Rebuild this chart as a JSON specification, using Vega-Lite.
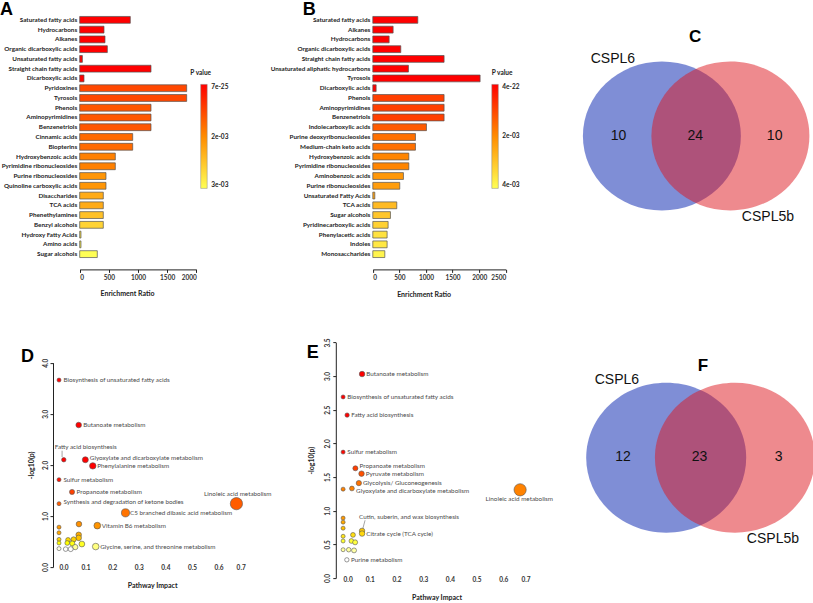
{
  "$schema": "https://vega.github.io/schema/vega-lite/v6.json",
  "background": "white",
  "padding": {"left": 0, "top": 1, "right": 0, "bottom": 0},
  "columns": 3,
  "spacing": {"column": 95.1, "row": 83.1},
  "bounds": "flush",
  "align": "all",
  "resolve": {"scale": {"color": "independent", "size": "independent"}, "legend": {"color": "independent", "size": "independent"}},
  "config": {
    "view": {"stroke": null},
    "font": "Lato",
    "axis": {"labelFont": "Lato", "titleFont": "Lato", "labelFontWeight": "bold", "titleFontWeight": "bold", "labelFontSize": 6.5, "titleFontSize": 7, "labelColor": "#333", "titleColor": "#222", "grid": false, "domainColor": "#222", "tickColor": "#222"},
    "legend": {"labelFont": "Lato", "titleFont": "Lato"}
  },
  "concat": [
    {
      "width": 186.2, "height": 244,
      "title": {"text": "A", "anchor": "start", "frame": "group", "dx": -59, "offset": -18, "baseline": "alphabetic", "fontSize": 18, "fontWeight": "bold", "font": "Liberation Sans", "color": "#000"},
      "data": {"values": [
        {"class": "Saturated fatty acids", "ratio": 868, "p": 7e-25},
        {"class": "Hydrocarbons", "ratio": 417, "p": 1e-21},
        {"class": "Alkanes", "ratio": 434, "p": 5e-19},
        {"class": "Organic dicarboxylic acids", "ratio": 474, "p": 2e-16},
        {"class": "Unsaturated fatty acids", "ratio": 46, "p": 1e-13},
        {"class": "Straight chain fatty acids", "ratio": 1223, "p": 3e-11},
        {"class": "Dicarboxylic acids", "ratio": 74, "p": 1e-8},
        {"class": "Pyridoxines", "ratio": 1835, "p": 0.00135},
        {"class": "Tyrosols", "ratio": 1835, "p": 0.00135},
        {"class": "Phenols", "ratio": 1223, "p": 0.0015},
        {"class": "Aminopyrimidines", "ratio": 1223, "p": 0.0015},
        {"class": "Benzenetriols", "ratio": 1223, "p": 0.0015},
        {"class": "Cinnamic acids", "ratio": 909, "p": 0.0017},
        {"class": "Biopterins", "ratio": 909, "p": 0.0017},
        {"class": "Hydroxybenzoic acids", "ratio": 611, "p": 0.0019},
        {"class": "Pyrimidine ribonucleosides", "ratio": 611, "p": 0.0019},
        {"class": "Purine ribonucleosides", "ratio": 451, "p": 0.0021},
        {"class": "Quinoline carboxylic acids", "ratio": 451, "p": 0.0021},
        {"class": "Disaccharides", "ratio": 405, "p": 0.0023},
        {"class": "TCA acids", "ratio": 405, "p": 0.0023},
        {"class": "Phenethylamines", "ratio": 405, "p": 0.0025},
        {"class": "Benzyl alcohols", "ratio": 405, "p": 0.00265},
        {"class": "Hydroxy Fatty Acids", "ratio": 22, "p": 0.0028},
        {"class": "Amino acids", "ratio": 22, "p": 0.0029},
        {"class": "Sugar alcohols", "ratio": 302, "p": 0.003}
      ]},
      "mark": {"type": "bar", "stroke": "#555", "strokeWidth": 0.7},
      "encoding": {
        "y": {"field": "class", "type": "nominal", "sort": null, "scale": {"paddingInner": 0.3, "paddingOuter": 0.15}, "axis": {"title": null, "domain": false, "ticks": false, "labelPadding": 3, "offset": -20.7, "labelFontSize": 6.3, "labelColor": "#222", "labelLimit": 300}},
        "x": {"field": "ratio", "type": "quantitative", "scale": {"domain": [0, 2000], "range": [20.7, 137.3], "nice": false}, "axis": {"values": [0, 500, 1000, 1500, 2000], "format": "d", "offset": 10.4, "tickSize": 3, "labelPadding": 2, "title": "Enrichment Ratio", "titlePadding": 9, "titleX": 68}},
        "color": {"field": "p", "type": "quantitative", "scale": {"type": "pow", "exponent": 1.7, "domain": [0.003, 0.002, 7e-25], "range": ["#ffff55", "#ff8c00", "#ff0000"], "interpolate": "rgb"},
          "legend": {"orient": "none", "legendX": 130.7, "legendY": 54.9, "direction": "vertical", "title": "P value", "titleFontSize": 6.5, "titleFontWeight": "bold", "titleColor": "#222", "titleAnchor": "start", "titleAlign": "center", "titlePadding": 8, "gradientLength": 104, "gradientThickness": 6.5, "gradientStrokeColor": "#888", "gradientStrokeWidth": 0.5, "values": [7e-25, 0.002, 0.003], "labelExpr": "replace(format(datum.value, '.0e'), 'e-3', 'e-03')", "labelFontSize": 6.5, "labelFontWeight": "bold", "labelColor": "#222", "labelOffset": 4, "padding": 0}}
      }
    },
    {
      "width": 186.9, "height": 244,
      "title": {"text": "B", "anchor": "start", "frame": "group", "dx": -40.3, "offset": -18, "baseline": "alphabetic", "fontSize": 18, "fontWeight": "bold", "font": "Liberation Sans", "color": "#000"},
      "data": {"values": [
        {"class": "Saturated fatty acids", "ratio": 846, "p": 4e-22},
        {"class": "Alkanes", "ratio": 382, "p": 1e-19},
        {"class": "Hydrocarbons", "ratio": 307, "p": 1e-17},
        {"class": "Organic dicarboxylic acids", "ratio": 526, "p": 1e-15},
        {"class": "Straight chain fatty acids", "ratio": 1340, "p": 1e-13},
        {"class": "Unsaturated aliphatic hydrocarbons", "ratio": 670, "p": 1e-11},
        {"class": "Tyrosols", "ratio": 2017, "p": 1e-9},
        {"class": "Dicarboxylic acids", "ratio": 63, "p": 1e-7},
        {"class": "Phenols", "ratio": 1340, "p": 0.0009},
        {"class": "Aminopyrimidines", "ratio": 1340, "p": 0.0009},
        {"class": "Benzenetriols", "ratio": 1340, "p": 0.0009},
        {"class": "Indolecarboxylic acids", "ratio": 1009, "p": 0.0013},
        {"class": "Purine deoxyribonucleosides", "ratio": 802, "p": 0.0016},
        {"class": "Medium-chain keto acids", "ratio": 802, "p": 0.0016},
        {"class": "Hydroxybenzoic acids", "ratio": 677, "p": 0.0019},
        {"class": "Pyrimidine ribonucleosides", "ratio": 677, "p": 0.0019},
        {"class": "Aminobenzoic acids", "ratio": 576, "p": 0.0022},
        {"class": "Purine ribonucleosides", "ratio": 507, "p": 0.0023},
        {"class": "Unsaturated Fatty Acids", "ratio": 38, "p": 0.0024},
        {"class": "TCA acids", "ratio": 451, "p": 0.0028},
        {"class": "Sugar alcohols", "ratio": 332, "p": 0.003},
        {"class": "Pyridinecarboxylic acids", "ratio": 288, "p": 0.0032},
        {"class": "Phenylacetic acids", "ratio": 269, "p": 0.0035},
        {"class": "Indoles", "ratio": 269, "p": 0.0036},
        {"class": "Monosaccharides", "ratio": 226, "p": 0.0038}
      ]},
      "mark": {"type": "bar", "stroke": "#555", "strokeWidth": 0.7},
      "encoding": {
        "y": {"field": "class", "type": "nominal", "sort": null, "scale": {"paddingInner": 0.3, "paddingOuter": 0.15}, "axis": {"title": null, "domain": false, "ticks": false, "labelPadding": 3, "offset": -29.7, "labelFontSize": 6.3, "labelColor": "#222", "labelLimit": 300}},
        "x": {"field": "ratio", "type": "quantitative", "scale": {"domain": [0, 2500], "range": [29.7, 162.7], "nice": false}, "axis": {"values": [0, 500, 1000, 1500, 2000, 2500], "format": "d", "offset": 10.4, "tickSize": 3, "labelPadding": 2, "title": "Enrichment Ratio", "titlePadding": 10, "titleX": 80.5}},
        "color": {"field": "p", "type": "quantitative", "scale": {"type": "linear", "domain": [0.004, 0.002, 4e-22], "range": ["#ffff55", "#ff8c00", "#ff0000"], "interpolate": "rgb"},
          "legend": {"orient": "none", "legendX": 148.7, "legendY": 54.9, "direction": "vertical", "title": "P value", "titleFontSize": 6.5, "titleFontWeight": "bold", "titleColor": "#222", "titleAnchor": "start", "titlePadding": 8, "gradientLength": 104, "gradientThickness": 6.5, "gradientStrokeColor": "#888", "gradientStrokeWidth": 0.5, "values": [4e-22, 0.002, 0.004], "labelExpr": "replace(format(datum.value, '.0e'), 'e-3', 'e-03')", "labelFontSize": 6.5, "labelFontWeight": "bold", "labelColor": "#222", "labelOffset": 4, "padding": 0}}
      }
    },
    {
      "width": 189, "height": 244,
      "data": {"values": [
        {"kind": "set", "label": "CSPL6", "u": 0, "v": 0},
        {"kind": "set", "label": "CSPL5b", "u": 0.867, "v": 0},
        {"kind": "count", "label": "10", "u": -0.548, "v": 0},
        {"kind": "count", "label": "24", "u": 0.422, "v": 0},
        {"kind": "count", "label": "10", "u": 1.427, "v": 0},
        {"kind": "name", "label": "CSPL6", "u": -0.62, "v": 0.977},
        {"kind": "name", "label": "CSPL5b", "u": 1.342, "v": -1.028},
        {"kind": "panel", "label": "C", "u": 0.422, "v": 1.256}
      ]},
      "encoding": {
        "x": {"field": "u", "type": "quantitative", "scale": {"domain": [-0.439, 1.953], "nice": false, "zero": false}, "axis": null},
        "y": {"field": "v", "type": "quantitative", "scale": {"domain": [-1.558, 1.53], "nice": false, "zero": false}, "axis": null}
      },
      "layer": [
        {"transform": [{"filter": "datum.kind === 'set'"}],
         "mark": {"type": "point", "shape": "M-1,0A1,0.943,0,1,1,1,0A1,0.943,0,1,1,-1,0Z", "filled": true, "size": 24964, "opacity": 0.5, "strokeWidth": 0},
         "encoding": {"color": {"field": "label", "type": "nominal", "scale": {"domain": ["CSPL6", "CSPL5b"], "range": ["#001dad", "#dd151d"]}, "legend": null}}},
        {"transform": [{"filter": "datum.kind === 'count' || datum.kind === 'name'"}],
         "mark": {"type": "text", "font": "Liberation Sans", "fontSize": 14, "color": "#111"},
         "encoding": {"text": {"field": "label"}}},
        {"transform": [{"filter": "datum.kind === 'panel'"}],
         "mark": {"type": "text", "font": "Liberation Sans", "fontSize": 17, "fontWeight": "bold", "color": "#000"},
         "encoding": {"text": {"field": "label"}}}
      ]
    },
    {
      "width": 186.2, "height": 237,
      "title": {"text": "D", "anchor": "start", "frame": "group", "dx": -38, "offset": -37.6, "baseline": "alphabetic", "fontSize": 18, "fontWeight": "bold", "font": "Liberation Sans", "color": "#000"},
      "data": {"values": [
        {"name": "Biosynthesis of unsaturated fatty acids", "impact": 0.0, "logp": 3.66, "pos": "right"},
        {"name": "Butanoate metabolism", "impact": 0.074, "logp": 2.78, "pos": "right"},
        {"name": "Fatty acid biosynthesis", "impact": 0.018, "logp": 2.1, "pos": "above-left"},
        {"name": "Glyoxylate and dicarboxylate metabolism", "impact": 0.099, "logp": 2.1, "pos": "right-up"},
        {"name": "Phenylalanine metabolism", "impact": 0.127, "logp": 1.98, "pos": "right"},
        {"name": "Sulfur metabolism", "impact": 0.0, "logp": 1.71, "pos": "right"},
        {"name": "Propanoate metabolism", "impact": 0.049, "logp": 1.47, "pos": "right"},
        {"name": "Synthesis and degradation of ketone bodies", "impact": 0.0, "logp": 1.24, "pos": "right-up"},
        {"name": "Linoleic acid metabolism", "impact": 0.667, "logp": 1.24, "pos": "above"},
        {"name": "C5 branched dibasic acid metabolism", "impact": 0.25, "logp": 1.06, "pos": "right"},
        {"name": "Vitamin B6 metabolism", "impact": 0.144, "logp": 0.81, "pos": "right"},
        {"name": "", "impact": 0.075, "logp": 0.84, "pos": "none"},
        {"name": "", "impact": 0.0, "logp": 0.78, "pos": "none"},
        {"name": "", "impact": 0.0, "logp": 0.67, "pos": "none"},
        {"name": "", "impact": 0.0, "logp": 0.54, "pos": "none"},
        {"name": "", "impact": 0.0, "logp": 0.47, "pos": "none"},
        {"name": "", "impact": 0.0, "logp": 0.36, "pos": "none"},
        {"name": "", "impact": 0.074, "logp": 0.63, "pos": "none"},
        {"name": "", "impact": 0.074, "logp": 0.57, "pos": "none"},
        {"name": "", "impact": 0.034, "logp": 0.53, "pos": "none"},
        {"name": "", "impact": 0.055, "logp": 0.54, "pos": "none"},
        {"name": "", "impact": 0.031, "logp": 0.47, "pos": "none"},
        {"name": "", "impact": 0.05, "logp": 0.46, "pos": "none"},
        {"name": "", "impact": 0.086, "logp": 0.45, "pos": "none"},
        {"name": "", "impact": 0.061, "logp": 0.39, "pos": "none"},
        {"name": "", "impact": 0.025, "logp": 0.35, "pos": "none"},
        {"name": "", "impact": 0.044, "logp": 0.35, "pos": "none"},
        {"name": "Glycine, serine, and threonine metabolism", "impact": 0.138, "logp": 0.4, "pos": "right"}
      ]},
      "encoding": {
        "x": {"field": "impact", "type": "quantitative", "scale": {"domain": [0, 0.7], "nice": false, "zero": false}, "axis": {"values": [0, 0.1, 0.2, 0.3, 0.4, 0.5, 0.6, 0.7], "format": ".1f", "domain": false, "ticks": false, "offset": -16.2, "labelPadding": 2, "title": "Pathway Impact", "titlePadding": 10}},
        "y": {"field": "logp", "type": "quantitative", "scale": {"domain": [0, 4], "range": [224.9, 20.6], "nice": false, "zero": false}, "axis": {"values": [0, 1, 2, 3, 4], "format": ".1f", "labelAngle": -90, "labelAlign": "center", "labelBaseline": "bottom", "offset": 6, "tickSize": 3, "labelPadding": 2, "title": "-log10(p)", "titlePadding": 8}}
      },
      "layer": [
        {"transform": [{"filter": "datum.pos === 'above-left'"}],
         "mark": {"type": "rule", "xOffset": -1.7, "yOffset": -2.7, "y2Offset": -9, "color": "#666", "strokeWidth": 0.6},
         "encoding": {"y2": {"field": "logp"}}},
        {"mark": {"type": "circle", "opacity": 1, "stroke": "#555", "strokeWidth": 0.6},
         "encoding": {
           "size": {"field": "impact", "type": "quantitative", "scale": {"domain": [0, 0.667], "range": [16, 150]}, "legend": null},
           "color": {"field": "logp", "type": "quantitative", "scale": {"domain": [0.35, 0.4, 0.47, 0.6, 1.0, 1.5, 1.8], "range": ["#ffffff", "#ffff80", "#ffff00", "#ffb000", "#ff7a00", "#ff3c00", "#ff0000"], "interpolate": "rgb"}, "legend": null}}},
        {"transform": [{"filter": "datum.pos === 'right'"}],
         "mark": {"type": "text", "align": "left", "baseline": "middle", "dx": 4.5, "font": "Lato", "fontSize": 6.3, "color": "#4a4a4a"},
         "encoding": {"text": {"field": "name"}}},
        {"transform": [{"filter": "datum.pos === 'right-up'"}],
         "mark": {"type": "text", "align": "left", "baseline": "middle", "dx": 4.5, "dy": -2, "font": "Lato", "fontSize": 6.3, "color": "#4a4a4a"},
         "encoding": {"text": {"field": "name"}}},
        {"transform": [{"filter": "datum.pos === 'above-left'"}],
         "mark": {"type": "text", "align": "left", "baseline": "middle", "dx": -9, "dy": -12.3, "font": "Lato", "fontSize": 6.3, "color": "#4a4a4a"},
         "encoding": {"text": {"field": "name"}}},
        {"transform": [{"filter": "datum.pos === 'above'"}],
         "mark": {"type": "text", "align": "center", "baseline": "middle", "dx": 1.4, "dy": -10, "font": "Lato", "fontSize": 6.3, "color": "#4a4a4a"},
         "encoding": {"text": {"field": "name"}}}
      ]
    },
    {
      "width": 186.9, "height": 237,
      "title": {"text": "E", "anchor": "start", "frame": "group", "dx": -36.3, "offset": -38.4, "baseline": "alphabetic", "fontSize": 18, "fontWeight": "bold", "font": "Liberation Sans", "color": "#000"},
      "data": {"values": [
        {"name": "Butanoate metabolism", "impact": 0.071, "logp": 3.03, "pos": "right"},
        {"name": "Biosynthesis of unsaturated fatty acids", "impact": 0.0, "logp": 2.69, "pos": "right"},
        {"name": "Fatty acid biosynthesis", "impact": 0.015, "logp": 2.42, "pos": "right"},
        {"name": "Sulfur metabolism", "impact": 0.0, "logp": 1.87, "pos": "right"},
        {"name": "Propanoate metabolism", "impact": 0.046, "logp": 1.63, "pos": "right-up"},
        {"name": "Pyruvate metabolism", "impact": 0.069, "logp": 1.55, "pos": "right"},
        {"name": "Glycolysis/ Gluconeogenesis", "impact": 0.059, "logp": 1.41, "pos": "right"},
        {"name": "Glyoxylate and dicarboxylate metabolism", "impact": 0.033, "logp": 1.33, "pos": "right-down"},
        {"name": "", "impact": 0.0, "logp": 1.32, "pos": "none"},
        {"name": "Linoleic acid metabolism", "impact": 0.663, "logp": 1.31, "pos": "below"},
        {"name": "", "impact": 0.0, "logp": 0.89, "pos": "none"},
        {"name": "", "impact": 0.0, "logp": 0.83, "pos": "none"},
        {"name": "", "impact": 0.0, "logp": 0.74, "pos": "none"},
        {"name": "", "impact": 0.0, "logp": 0.62, "pos": "none"},
        {"name": "", "impact": 0.0, "logp": 0.55, "pos": "none"},
        {"name": "", "impact": 0.0, "logp": 0.42, "pos": "none"},
        {"name": "", "impact": 0.037, "logp": 0.64, "pos": "none"},
        {"name": "Cutin, suberin, and wax biosynthesis", "impact": 0.071, "logp": 0.7, "pos": "above-left"},
        {"name": "Citrate cycle (TCA cycle)", "impact": 0.071, "logp": 0.66, "pos": "right"},
        {"name": "", "impact": 0.031, "logp": 0.55, "pos": "none"},
        {"name": "", "impact": 0.045, "logp": 0.53, "pos": "none"},
        {"name": "", "impact": 0.021, "logp": 0.42, "pos": "none"},
        {"name": "", "impact": 0.041, "logp": 0.41, "pos": "none"},
        {"name": "Purine metabolism", "impact": 0.014, "logp": 0.27, "pos": "right"}
      ]},
      "encoding": {
        "x": {"field": "impact", "type": "quantitative", "scale": {"domain": [0, 0.7], "nice": false, "zero": false}, "axis": {"values": [0, 0.1, 0.2, 0.3, 0.4, 0.5, 0.6, 0.7], "format": ".1f", "domain": false, "ticks": false, "offset": -4.2, "labelPadding": 2, "title": "Pathway Impact", "titlePadding": 10}},
        "y": {"field": "logp", "type": "quantitative", "scale": {"domain": [0, 3.5], "range": [235.9, 0.3], "nice": false, "zero": false}, "axis": {"values": [0, 0.5, 1, 1.5, 2, 2.5, 3, 3.5], "format": ".1f", "labelAngle": -90, "labelAlign": "center", "labelBaseline": "bottom", "offset": 7.3, "tickSize": 3, "labelPadding": 2, "title": "-log10(p)", "titlePadding": 10}}
      },
      "layer": [
        {"transform": [{"filter": "datum.pos === 'above-left'"}],
         "mark": {"type": "rule", "xOffset": 0.7, "x2Offset": 3, "yOffset": -2, "y2Offset": -10.6, "color": "#666", "strokeWidth": 0.6},
         "encoding": {"x2": {"field": "impact"}, "y2": {"field": "logp"}}},
        {"mark": {"type": "circle", "opacity": 1, "stroke": "#555", "strokeWidth": 0.6},
         "encoding": {
           "size": {"field": "impact", "type": "quantitative", "scale": {"domain": [0, 0.667], "range": [16, 150]}, "legend": null},
           "color": {"field": "logp", "type": "quantitative", "scale": {"domain": [0.28, 0.42, 0.55, 0.7, 0.9, 1.35, 1.6, 1.9], "range": ["#ffffff", "#ffffa0", "#ffff30", "#ffc800", "#ff9600", "#ff8000", "#ff4500", "#ff0000"], "interpolate": "rgb"}, "legend": null}}},
        {"transform": [{"filter": "datum.pos === 'right'"}],
         "mark": {"type": "text", "align": "left", "baseline": "middle", "dx": 4.2, "font": "Lato", "fontSize": 6.3, "color": "#4a4a4a"},
         "encoding": {"text": {"field": "name"}}},
        {"transform": [{"filter": "datum.pos === 'right-up'"}],
         "mark": {"type": "text", "align": "left", "baseline": "middle", "dx": 4.2, "dy": -2, "font": "Lato", "fontSize": 6.3, "color": "#4a4a4a"},
         "encoding": {"text": {"field": "name"}}},
        {"transform": [{"filter": "datum.pos === 'right-down'"}],
         "mark": {"type": "text", "align": "left", "baseline": "middle", "dx": 4.2, "dy": 2.7, "font": "Lato", "fontSize": 6.3, "color": "#4a4a4a"},
         "encoding": {"text": {"field": "name"}}},
        {"transform": [{"filter": "datum.pos === 'above-left'"}],
         "mark": {"type": "text", "align": "left", "baseline": "middle", "dx": -3, "dy": -13.6, "font": "Lato", "fontSize": 6.3, "color": "#4a4a4a"},
         "encoding": {"text": {"field": "name"}}},
        {"transform": [{"filter": "datum.pos === 'below'"}],
         "mark": {"type": "text", "align": "center", "baseline": "middle", "dx": -0.8, "dy": 9, "font": "Lato", "fontSize": 6.3, "color": "#4a4a4a"},
         "encoding": {"text": {"field": "name"}}}
      ]
    },
    {
      "width": 189, "height": 237,
      "data": {"values": [
        {"kind": "set", "label": "CSPL6", "u": 0, "v": 0},
        {"kind": "set", "label": "CSPL5b", "u": 0.859, "v": 0},
        {"kind": "count", "label": "12", "u": -0.541, "v": 0.0125},
        {"kind": "count", "label": "23", "u": 0.4175, "v": 0.0125},
        {"kind": "count", "label": "3", "u": 1.405, "v": 0.0125},
        {"kind": "name", "label": "CSPL6", "u": -0.616, "v": 0.97},
        {"kind": "name", "label": "CSPL5b", "u": 1.334, "v": -1.021},
        {"kind": "panel", "label": "F", "u": 0.459, "v": 1.145}
      ]},
      "encoding": {
        "x": {"field": "u", "type": "quantitative", "scale": {"domain": [-0.4875, 1.875], "nice": false, "zero": false}, "axis": null},
        "y": {"field": "v", "type": "quantitative", "scale": {"domain": [-1.5175, 1.445], "nice": false, "zero": false}, "axis": null}
      },
      "layer": [
        {"transform": [{"filter": "datum.kind === 'set'"}],
         "mark": {"type": "point", "shape": "M-1,0A1,0.9375,0,1,1,1,0A1,0.9375,0,1,1,-1,0Z", "filled": true, "size": 25600, "opacity": 0.5, "strokeWidth": 0},
         "encoding": {"color": {"field": "label", "type": "nominal", "scale": {"domain": ["CSPL6", "CSPL5b"], "range": ["#001dad", "#dd151d"]}, "legend": null}}},
        {"transform": [{"filter": "datum.kind === 'count' || datum.kind === 'name'"}],
         "mark": {"type": "text", "font": "Liberation Sans", "fontSize": 14, "color": "#111"},
         "encoding": {"text": {"field": "label"}}},
        {"transform": [{"filter": "datum.kind === 'panel'"}],
         "mark": {"type": "text", "font": "Liberation Sans", "fontSize": 17, "fontWeight": "bold", "color": "#000"},
         "encoding": {"text": {"field": "label"}}}
      ]
    }
  ]
}
